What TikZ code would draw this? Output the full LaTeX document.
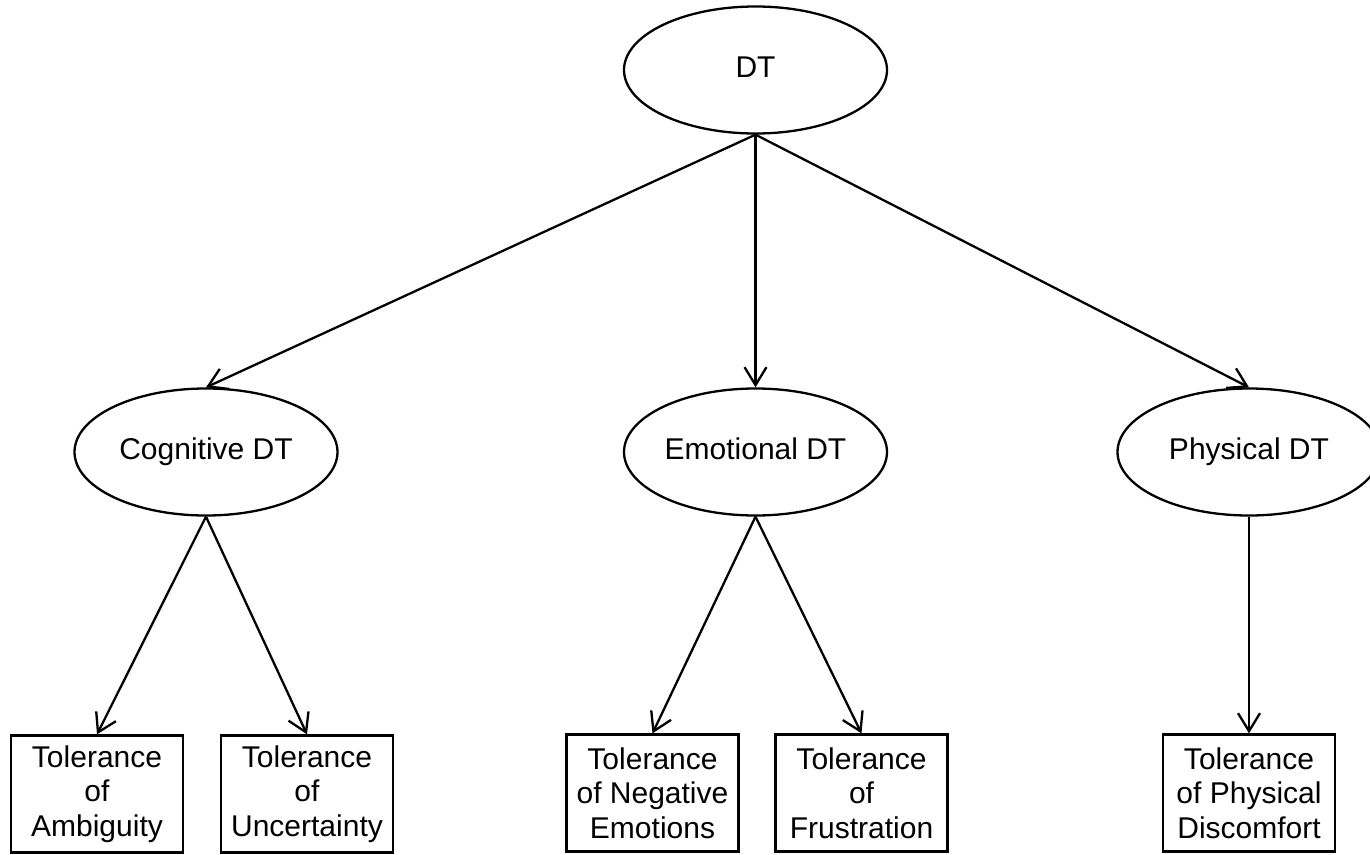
\documentclass[tikz,border=0pt]{standalone}
\usepackage{fontspec}
\setmainfont{Liberation Sans}
\usetikzlibrary{shapes.geometric,arrows.meta}
\begin{document}
\begin{tikzpicture}[x=1pt,y=-1pt,
  oval/.style={draw,ellipse,line width=2.3pt,minimum width=263pt,minimum height=127pt,inner sep=0pt,text height=21pt,text depth=6pt,font=\fontsize{30}{34.5}\selectfont},
  leaf/.style={draw,rectangle,line width=2.3pt,minimum width=172pt,minimum height=117pt,inner sep=0pt,align=center,font=\fontsize{30}{34.5}\selectfont},
  link/.style={line width=2.3pt,-{Straight Barb[length=18pt,width=22pt]}}]
\useasboundingbox (0,0) rectangle (1370,854);
\clip (0,0) rectangle (1370,854);
\node[oval] (dt) at (755.5,70) {DT};
\node[oval] (cog) at (206,452) {Cognitive DT};
\node[oval] (emo) at (755.5,452) {Emotional DT};
\node[oval] (phy) at (1249,452) {Physical DT};
\node[leaf] (amb) at (97,794) {Tolerance\\of\\Ambiguity};
\node[leaf] (unc) at (307,794) {Tolerance\\of\\Uncertainty};
\node[leaf] (neg) at (652.5,793) {Tolerance\\of Negative\\Emotions};
\node[leaf] (fru) at (861.5,793) {Tolerance\\of\\Frustration};
\node[leaf] (dis) at (1249,793) {Tolerance\\of Physical\\Discomfort};
\draw[link] (dt.south) -- (cog.north);
\draw[link] (dt.south) -- (emo.north);
\draw[link] (dt.south) -- (phy.north);
\draw[link] (cog.south) -- (amb.north);
\draw[link] (cog.south) -- (unc.north);
\draw[link] (emo.south) -- (neg.north);
\draw[link] (emo.south) -- (fru.north);
\draw[link] (phy.south) -- (dis.north);
\end{tikzpicture}
\end{document}
